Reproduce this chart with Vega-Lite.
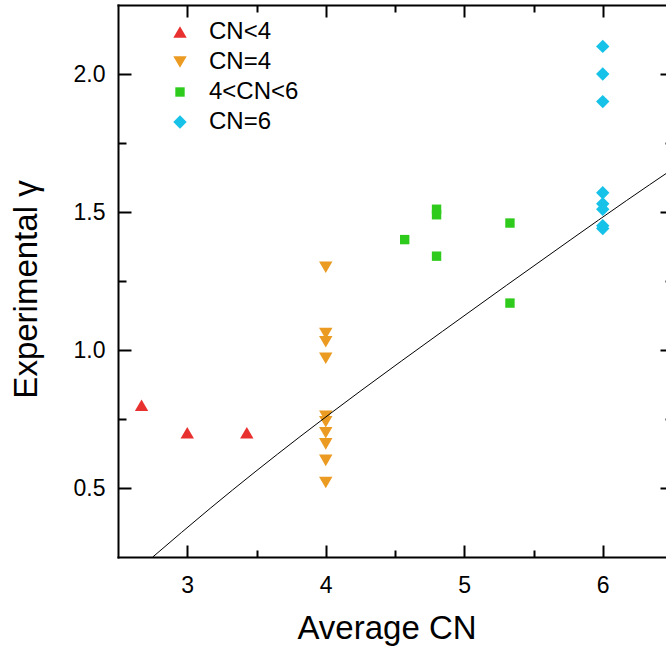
{
  "$schema": "https://vega.github.io/schema/vega-lite/v6.json",
  "autosize": "none",
  "padding": {"left": 118, "top": 5, "right": -6, "bottom": 93},
  "width": 554,
  "height": 552,
  "config": {
    "view": {"stroke": null},
    "font": "Liberation Sans",
    "axis": {
      "grid": false,
      "domainColor": "#000",
      "domainWidth": 2,
      "domainCap": "square",
      "tickColor": "#000",
      "tickWidth": 2,
      "labelColor": "#000",
      "titleColor": "#000",
      "labelFont": "Liberation Sans",
      "titleFont": "Liberation Sans",
      "labelFontSize": 23,
      "titleFontSize": 33,
      "titleFontWeight": "normal"
    }
  },
  "datasets": {
    "pts": [
      {"cn": 2.67, "gamma": 0.80, "group": "CN<4"},
      {"cn": 3.0, "gamma": 0.70, "group": "CN<4"},
      {"cn": 3.43, "gamma": 0.70, "group": "CN<4"},
      {"cn": 4.0, "gamma": 1.30, "group": "CN=4"},
      {"cn": 4.0, "gamma": 1.06, "group": "CN=4"},
      {"cn": 4.0, "gamma": 1.03, "group": "CN=4"},
      {"cn": 4.0, "gamma": 0.97, "group": "CN=4"},
      {"cn": 4.0, "gamma": 0.76, "group": "CN=4"},
      {"cn": 4.0, "gamma": 0.74, "group": "CN=4"},
      {"cn": 4.0, "gamma": 0.70, "group": "CN=4"},
      {"cn": 4.0, "gamma": 0.66, "group": "CN=4"},
      {"cn": 4.0, "gamma": 0.60, "group": "CN=4"},
      {"cn": 4.0, "gamma": 0.52, "group": "CN=4"},
      {"cn": 4.57, "gamma": 1.40, "group": "4<CN<6"},
      {"cn": 4.8, "gamma": 1.51, "group": "4<CN<6"},
      {"cn": 4.8, "gamma": 1.49, "group": "4<CN<6"},
      {"cn": 4.8, "gamma": 1.34, "group": "4<CN<6"},
      {"cn": 5.33, "gamma": 1.46, "group": "4<CN<6"},
      {"cn": 5.33, "gamma": 1.17, "group": "4<CN<6"},
      {"cn": 6.0, "gamma": 2.10, "group": "CN=6"},
      {"cn": 6.0, "gamma": 2.00, "group": "CN=6"},
      {"cn": 6.0, "gamma": 1.90, "group": "CN=6"},
      {"cn": 6.0, "gamma": 1.57, "group": "CN=6"},
      {"cn": 6.0, "gamma": 1.53, "group": "CN=6"},
      {"cn": 6.0, "gamma": 1.51, "group": "CN=6"},
      {"cn": 6.0, "gamma": 1.45, "group": "CN=6"},
      {"cn": 6.0, "gamma": 1.44, "group": "CN=6"}
    ],
    "fit": [
      {"x": 2.751, "y": 0.25},
      {"x": 3.165, "y": 0.426},
      {"x": 3.814, "y": 0.686},
      {"x": 4.247, "y": 0.85},
      {"x": 4.844, "y": 1.068},
      {"x": 5.764, "y": 1.398},
      {"x": 6.173, "y": 1.542},
      {"x": 6.5, "y": 1.654}
    ]
  },
  "layer": [
    {
      "data": {"name": "pts"},
      "mark": {"type": "point", "filled": true, "opacity": 1, "size": 180, "strokeWidth": 0},
      "encoding": {
        "x": {
          "field": "cn", "type": "quantitative",
          "scale": {"domain": [2.5, 6.5], "nice": false, "zero": false},
          "axis": {
            "orient": "bottom", "values": [3, 4, 5, 6], "format": "d",
            "ticks": false, "labelPadding": 17, "labelFlush": false, "labelFontSize": 23,
            "title": "Average CN", "titleX": 268.5, "titleY": 81,
            "titleBaseline": "alphabetic", "titleAlign": "center"
          }
        },
        "y": {
          "field": "gamma", "type": "quantitative",
          "scale": {"domain": [0.25, 2.25], "nice": false, "zero": false},
          "axis": {
            "orient": "left", "values": [0.5, 1, 1.5, 2], "format": ".1f",
            "ticks": false, "labelPadding": 13, "labelFlush": false, "labelFontSize": 23,
            "title": "Experimental γ", "titleX": -82, "titleY": 284,
            "titleBaseline": "alphabetic", "titleAlign": "center"
          }
        },
        "color": {
          "field": "group", "type": "nominal",
          "scale": {"domain": ["CN<4", "CN=4", "4<CN<6", "CN=6"], "range": ["#E8312F", "#EB9A22", "#2FCB1C", "#17C2E8"]},
          "legend": {
            "title": null, "orient": "none", "legendX": 50, "legendY": 15, "padding": 0,
            "labelFontSize": 24, "labelFont": "Liberation Sans", "labelColor": "#000",
            "labelOffset": 17, "rowPadding": 6, "symbolSize": 180, "symbolStrokeWidth": 0
          }
        },
        "shape": {
          "field": "group", "type": "nominal",
          "scale": {"domain": ["CN<4", "CN=4", "4<CN<6", "CN=6"], "range": ["triangle-up", "triangle-down", "M-0.7,-0.7H0.7V0.7H-0.7Z", "diamond"]},
          "legend": {
            "title": null, "orient": "none", "legendX": 50, "legendY": 15, "padding": 0,
            "labelFontSize": 24, "labelFont": "Liberation Sans", "labelColor": "#000",
            "labelOffset": 17, "rowPadding": 6, "symbolSize": 180, "symbolStrokeWidth": 0
          }
        }
      }
    },
    {
      "data": {"name": "fit"},
      "mark": {"type": "line", "color": "#000", "strokeWidth": 1, "clip": true, "interpolate": "monotone"},
      "encoding": {
        "x": {
          "field": "x", "type": "quantitative",
          "scale": {"domain": [2.5, 6.5], "nice": false, "zero": false},
          "axis": {"orient": "top", "values": [3, 4, 5, 6], "labels": false, "tickSize": -12, "title": null}
        },
        "y": {
          "field": "y", "type": "quantitative",
          "scale": {"domain": [0.25, 2.25], "nice": false, "zero": false},
          "axis": {"orient": "right", "values": [0.5, 1, 1.5, 2], "labels": false, "tickSize": -12, "title": null}
        }
      }
    },
    {
      "data": {"name": "pts"},
      "mark": {"type": "point", "opacity": 0},
      "encoding": {
        "x": {
          "field": "cn", "type": "quantitative",
          "scale": {"domain": [2.5, 6.5], "nice": false, "zero": false},
          "axis": {"orient": "bottom", "values": [3, 4, 5, 6], "labels": false, "domain": false, "tickSize": -12, "title": null}
        },
        "y": {
          "field": "gamma", "type": "quantitative",
          "scale": {"domain": [0.25, 2.25], "nice": false, "zero": false},
          "axis": {"orient": "left", "values": [0.5, 1, 1.5, 2], "labels": false, "domain": false, "tickSize": -13, "title": null}
        }
      }
    },
    {
      "data": {"name": "pts"},
      "mark": {"type": "point", "opacity": 0},
      "encoding": {
        "x": {
          "field": "cn", "type": "quantitative",
          "scale": {"domain": [2.5, 6.5], "nice": false, "zero": false},
          "axis": {"orient": "bottom", "values": [3.5, 4.5, 5.5], "labels": false, "domain": false, "tickSize": -7, "title": null}
        },
        "y": {
          "field": "gamma", "type": "quantitative",
          "scale": {"domain": [0.25, 2.25], "nice": false, "zero": false},
          "axis": {"orient": "left", "values": [0.75, 1.25, 1.75], "labels": false, "domain": false, "tickSize": -8, "title": null}
        }
      }
    },
    {
      "data": {"name": "pts"},
      "mark": {"type": "point", "opacity": 0},
      "encoding": {
        "x": {
          "field": "cn", "type": "quantitative",
          "scale": {"domain": [2.5, 6.5], "nice": false, "zero": false},
          "axis": {"orient": "top", "values": [3.5, 4.5, 5.5], "labels": false, "domain": false, "tickSize": -7, "title": null}
        },
        "y": {
          "field": "gamma", "type": "quantitative",
          "scale": {"domain": [0.25, 2.25], "nice": false, "zero": false},
          "axis": {"orient": "right", "values": [0.75, 1.25, 1.75], "labels": false, "domain": false, "tickSize": -7, "title": null}
        }
      }
    }
  ],
  "resolve": {"axis": {"x": "independent", "y": "independent"}}
}
